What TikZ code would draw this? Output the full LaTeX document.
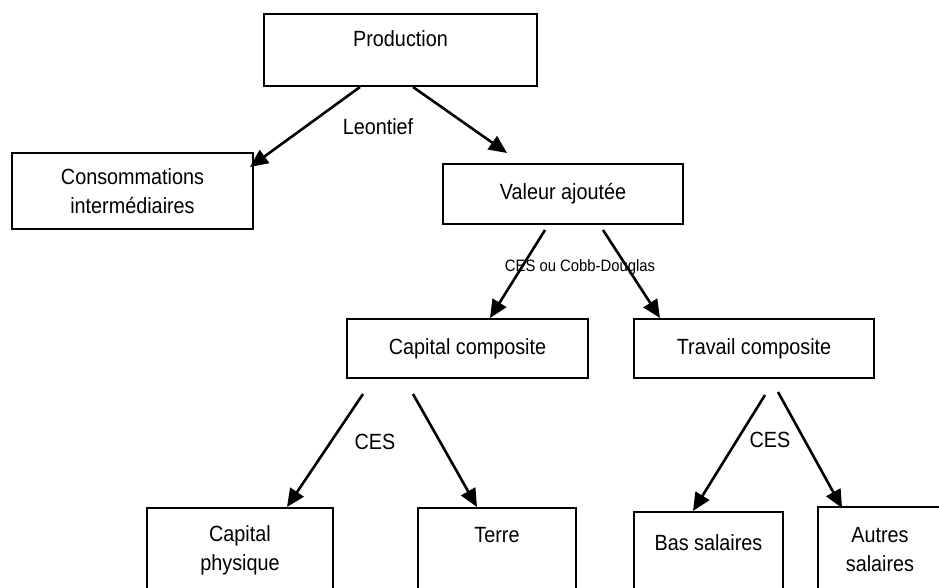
\documentclass[tikz,border=0pt]{standalone}
\usepackage{fontspec}
\setmainfont{Liberation Sans}[FakeStretch=0.9]
\usetikzlibrary{arrows.meta,calc}

\tikzset{
  box/.style={draw=black, line width=2pt, fill=white, inner sep=0pt, anchor=north west},
  txt/.style={inner sep=0pt, align=center, font=\fontsize{22}{29}\selectfont},
  toptxt/.style={txt, anchor=north},
  smalltxt/.style={inner sep=0pt, font=\fontsize{16.5}{20}\selectfont},
  arr/.style={line width=2.6pt, -{Triangle[length=18pt,width=16pt]}}
}

\begin{document}
\begin{tikzpicture}[x=1pt, y=-1pt]
  \useasboundingbox (0,0) rectangle (939,588);
  \clip (0,0) rectangle (939,588);

  % boxes
  \node[box, minimum width=273pt, minimum height=72pt] (prod) at (263,13) {};
  \node[toptxt] (prodlbl) at ($(prod.north)+(0,17)$) {Production};

  \node[box, minimum width=241pt, minimum height=76pt, txt] (ci) at (11,152)
    {Consommations\\interm\'ediaires};
  \node[box, minimum width=240pt, minimum height=60pt, txt] (va) at (442,163)
    {Valeur ajout\'ee};
  \node[box, minimum width=241pt, minimum height=59pt, txt] (cc) at (346,318)
    {Capital composite};
  \node[box, minimum width=240pt, minimum height=59pt, txt] (tc) at (633,318)
    {Travail composite};

  \node[box, minimum width=186pt, minimum height=120pt] (cp) at (146,507) {};
  \node[toptxt] (cplbl) at ($(cp.north)+(0,18)$) {Capital\\physique};
  \node[box, minimum width=158pt, minimum height=120pt] (te) at (417,507) {};
  \node[toptxt] (telbl) at ($(te.north)+(0,20)$) {Terre};
  \node[box, minimum width=149pt, minimum height=120pt] (bs) at (633,511) {};
  \node[toptxt] (bslbl) at ($(bs.north)+(0,23)$) {Bas salaires};
  \node[box, minimum width=160pt, minimum height=120pt] (as) at (817,506) {};
  \node[toptxt] (aslbl) at (880,527) {Autres\\salaires};

  % connectors
  \draw[arr] ($(prod.south west)+(97,0)$) -- ($(ci.north east)+(-4,15)$);
  \draw[arr] ($(prod.south west)+(150,0)$) -- ($(va.north west)+(65,-10)$);
  \draw[arr] ($(va.south west)+(103,5)$) -- ($(cc.north west)+(144,0)$);
  \draw[arr] ($(va.south west)+(161,5)$) -- ($(tc.north west)+(27,0)$);
  \draw[arr] ($(cc.south west)+(17,15)$) -- ($(cp.north west)+(141,0)$);
  \draw[arr] ($(cc.south west)+(67,15)$) -- ($(te.north west)+(60,0)$);
  \draw[arr] ($(tc.south west)+(132,16)$) -- ($(bs.north west)+(60,0)$);
  \draw[arr] ($(tc.south west)+(145,13)$) -- ($(as.north west)+(25,2)$);

  % connector labels
  \node[txt] (leontief) at (378,127) {Leontief};
  \node[smalltxt] (cesva) at (580,267) {CES ou Cobb-Douglas};
  \node[txt] (cescc) at (375,442) {CES};
  \node[txt] (cestc) at (770,440) {CES};
\end{tikzpicture}
\end{document}
